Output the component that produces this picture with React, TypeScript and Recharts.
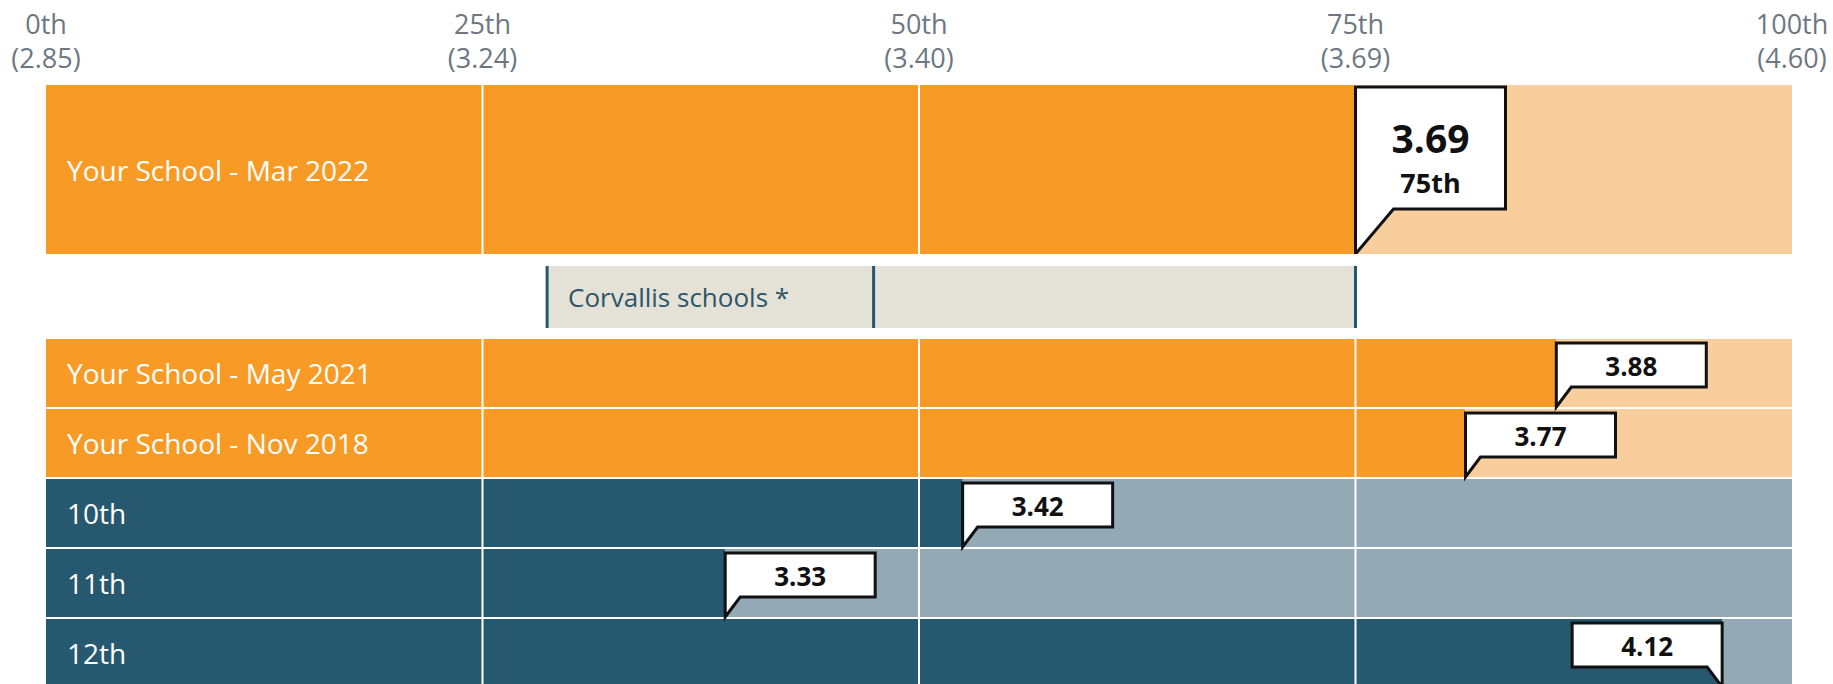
import React from "react";
import { Bar, BarChart, Cell, LabelList, ReferenceLine, XAxis, YAxis } from "recharts";

// percentile axis
const tickPercentiles = [0, 25, 50, 75, 100];
const tickNames = ["0th", "25th", "50th", "75th", "100th"];
const tickScores = ["(2.85)", "(3.24)", "(3.40)", "(3.69)", "(4.60)"];

// current survey
const currentNames = ["Your School - Mar 2022"];
const currentScores = ["3.69"];
const currentPcts = [75];

// district range
const compareNames = ["Corvallis schools *"];
const compareLow = [28.7];
const compareMid = [47.4];
const compareHigh = [75];

// earlier surveys + grades
const rowNames = ["Your School - May 2021", "Your School - Nov 2018", "10th", "11th", "12th"];
const rowScores = ["3.88", "3.77", "3.42", "3.33", "4.12"];
const rowPcts = [86.5, 81.3, 52.5, 38.9, 96.0];
const rowGroups = ["school", "school", "grade", "grade", "grade"];

const W = 1833;
const MARGIN = { top: 0, right: 41, left: 46, bottom: 0 };
const PLOT_RIGHT = W - MARGIN.right;
const FONT = '"Open Sans", sans-serif';

const COLORS: Record<string, { dark: string; light: string }> = {
  school: { dark: "#F79B26", light: "#F9CE9D" },
  grade: { dark: "#26586F", light: "#93AAB6" },
};

const currentData = currentNames.map((name, i) => ({
  name,
  filled: currentPcts[i],
  rest: 100 - currentPcts[i],
  score: currentScores[i],
  group: "school",
}));

const compareData = compareNames.map((name, i) => ({
  name,
  offset: compareLow[i],
  lower: compareMid[i] - compareLow[i],
  upper: compareHigh[i] - compareMid[i],
}));

const rowData = rowNames.map((name, i) => ({
  name,
  filled: rowPcts[i],
  rest: 100 - rowPcts[i],
  score: rowScores[i],
  group: rowGroups[i],
}));

const box = (props: any) => {
  const vb = props.viewBox || props;
  return { x: vb.x ?? props.x, y: vb.y ?? props.y, width: vb.width ?? props.width, height: vb.height ?? props.height };
};

const PercentileTick = (props: any) => {
  const { x, payload } = props;
  const i = tickPercentiles.indexOf(payload.value);
  return (
    <g>
      <text x={x} y={34} textAnchor="middle" fill="#6E7781" fontSize={27} fontFamily={FONT}>
        {tickNames[i]}
      </text>
      <text x={x} y={68} textAnchor="middle" fill="#6E7781" fontSize={27} fontFamily={FONT}>
        {tickScores[i]}
      </text>
    </g>
  );
};

const RowLabel = (props: any) => {
  const { x, y, height } = box(props);
  return (
    <text x={x + 21} y={y + height / 2 + 11} fill="#fff" fontSize={28} fontFamily={FONT}>
      {props.value}
    </text>
  );
};

const callout = (big: boolean) => (props: any) => {
  const { x, y, width, height } = box(props);
  const px = x + width;
  const bottom = y + height;
  const boxW = 150;
  const top = y + (big ? 2 : 4);
  const boxBottom = top + (big ? 122 : 44);
  const tail = big ? 38 : 15;
  const dir = px + boxW > PLOT_RIGHT ? -1 : 1;
  const d = `M${px},${bottom} L${px},${top} L${px + dir * boxW},${top} L${px + dir * boxW},${boxBottom} L${px + dir * tail},${boxBottom} Z`;
  const cx = px + (dir * boxW) / 2;
  return (
    <g>
      <path d={d} fill="#fff" stroke="#111" strokeWidth={3} />
      {big ? (
        <>
          <text x={cx} y={y + 68} textAnchor="middle" fontSize={39} fontWeight={700} fill="#111" fontFamily={FONT}>
            {props.value}
          </text>
          <text x={cx} y={y + 108} textAnchor="middle" fontSize={27} fontWeight={700} fill="#111" fontFamily={FONT}>
            {currentPcts[0]}th
          </text>
        </>
      ) : (
        <text x={cx} y={y + 37} textAnchor="middle" fontSize={26} fontWeight={700} fill="#111" fontFamily={FONT}>
          {props.value}
        </text>
      )}
    </g>
  );
};

const RangeSegment = (props: any) => {
  const { x, y, width, height, closeRight } = props;
  return (
    <g>
      <rect x={x} y={y} width={width} height={height} fill="#E4E1D7" />
      <line x1={x} x2={x} y1={y} y2={y + height} stroke="#285670" strokeWidth={3} />
      {closeRight && <line x1={x + width} x2={x + width} y1={y} y2={y + height} stroke="#285670" strokeWidth={3} />}
    </g>
  );
};

const CompareLabel = (props: any) => {
  const { x, y, height } = box(props);
  return (
    <text x={x + 21} y={y + height / 2 + 10} fill="#2E5467" fontSize={26} fontFamily={FONT}>
      {props.value}
    </text>
  );
};

const gridLines = [25, 50, 75];

const layer = (top: number): React.CSSProperties => ({ position: "absolute", left: 0, top });

export default function App() {
  return (
    <div
      style={{
        position: "absolute",
        left: 0,
        top: 0,
        width: W,
        height: 684,
        overflow: "hidden",
        background: "#fff",
        fontFamily: FONT,
      }}
    >
      {/* current survey row + percentile axis */}
      <div style={layer(0)}>
        <BarChart width={W} height={254} data={currentData} layout="vertical" margin={MARGIN} barCategoryGap={0}>
          <XAxis
            type="number"
            domain={[0, 100]}
            ticks={tickPercentiles}
            interval={0}
            orientation="top"
            height={85}
            axisLine={false}
            tickLine={false}
            tick={<PercentileTick />}
          />
          <YAxis type="category" dataKey="name" hide />
          <Bar dataKey="filled" stackId="a" fill={COLORS.school.dark} isAnimationActive={false}>
            <LabelList dataKey="name" content={RowLabel} />
          </Bar>
          <Bar dataKey="rest" stackId="a" fill={COLORS.school.light} isAnimationActive={false} />
          {gridLines.map((g) => (
            <ReferenceLine key={g} x={g} stroke="#fff" strokeWidth={2} />
          ))}
        </BarChart>
      </div>
      <div style={layer(0)}>
        <BarChart
          width={W}
          height={254}
          data={currentData}
          layout="vertical"
          margin={{ ...MARGIN, top: 85 }}
          barCategoryGap={0}
        >
          <XAxis type="number" domain={[0, 100]} hide />
          <YAxis type="category" dataKey="name" hide />
          <Bar dataKey="filled" fill="none" isAnimationActive={false}>
            <LabelList dataKey="score" content={callout(true)} />
          </Bar>
        </BarChart>
      </div>

      {/* district range */}
      <div style={layer(254)}>
        <BarChart width={W} height={85} data={compareData} layout="vertical" margin={MARGIN} barSize={62}>
          <XAxis type="number" domain={[0, 100]} hide />
          <YAxis type="category" dataKey="name" hide />
          <Bar dataKey="offset" stackId="c" fill="none" isAnimationActive={false} />
          <Bar dataKey="lower" stackId="c" isAnimationActive={false} shape={<RangeSegment />}>
            <LabelList dataKey="name" content={CompareLabel} />
          </Bar>
          <Bar dataKey="upper" stackId="c" isAnimationActive={false} shape={<RangeSegment closeRight />} />
        </BarChart>
      </div>

      {/* earlier surveys and grades */}
      <div style={layer(338)}>
        <BarChart width={W} height={350} data={rowData} layout="vertical" margin={MARGIN} barCategoryGap={1}>
          <XAxis type="number" domain={[0, 100]} hide />
          <YAxis type="category" dataKey="name" hide />
          <Bar dataKey="filled" stackId="a" isAnimationActive={false}>
            {rowData.map((r) => (
              <Cell key={r.name} fill={COLORS[r.group].dark} />
            ))}
            <LabelList dataKey="name" content={RowLabel} />
          </Bar>
          <Bar dataKey="rest" stackId="a" isAnimationActive={false}>
            {rowData.map((r) => (
              <Cell key={r.name} fill={COLORS[r.group].light} />
            ))}
          </Bar>
          {gridLines.map((g) => (
            <ReferenceLine key={g} x={g} stroke="#fff" strokeWidth={2} />
          ))}
        </BarChart>
      </div>
      <div style={layer(338)}>
        <BarChart width={W} height={350} data={rowData} layout="vertical" margin={MARGIN} barCategoryGap={1}>
          <XAxis type="number" domain={[0, 100]} hide />
          <YAxis type="category" dataKey="name" hide />
          <Bar dataKey="filled" fill="none" isAnimationActive={false}>
            <LabelList dataKey="score" content={callout(false)} />
          </Bar>
        </BarChart>
      </div>
    </div>
  );
}
